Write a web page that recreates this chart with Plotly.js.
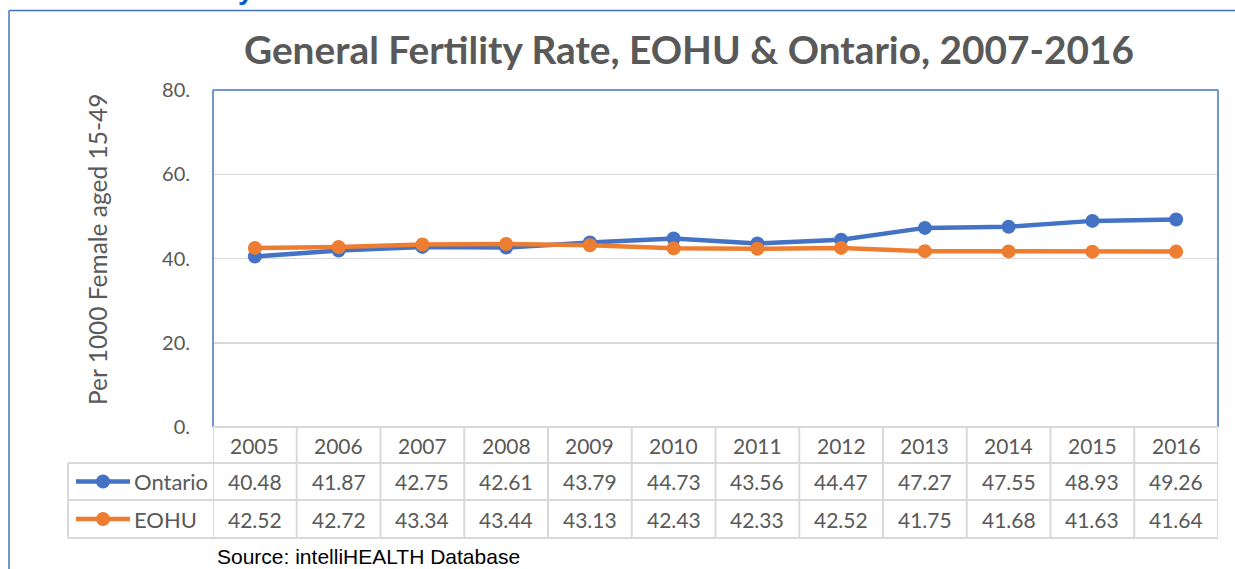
<!DOCTYPE html>
<html>
<head>
<meta charset="utf-8">
<script src="https://cdn.plot.ly/plotly-3.0.1.min.js"></script>
<style>html,body{margin:0;padding:0;background:#fff;} #chart{width:1235px;height:569px;}</style>
</head>
<body>
<div id="chart"></div>
<script>
// ---- data ----
var years = ["2005","2006","2007","2008","2009","2010","2011","2012","2013","2014","2015","2016"];
var ontario = [40.48, 41.87, 42.75, 42.61, 43.79, 44.73, 43.56, 44.47, 47.27, 47.55, 48.93, 49.26];
var eohu = [42.52, 42.72, 43.34, 43.44, 43.13, 42.43, 42.33, 42.52, 41.75, 41.68, 41.63, 41.64];
var seriesNames = ["Ontario", "EOHU"];
var yTickVals = [0, 20, 40, 60, 80];
var yTickText = ["0.", "20.", "40.", "60.", "80."];
var titleText = "General Fertility Rate, EOHU & Ontario, 2007-2016";
var yTitleText = "Per 1000 Female aged 15-49";
var sourceText = "Source: intelliHEALTH Database";

// ---- layout geometry (pixels) ----
var W = 1235, H = 569;
var L = 213, R = 1218, T = 90, B = 427;
var pw = R - L, ph = B - T;
function px(x) { return (x - L) / pw; }
function py(y) { return (B - y) / ph; }
var blue = "#4472C4", orange = "#ED7D31", grey = "#595959", gridc = "#D9D9D9";
var font = "Lato, 'Open Sans', sans-serif";
var rowTop = [427, 463, 500, 538];
var tblLeft = 68;

var traces = [
  {x: years, y: ontario, name: seriesNames[0], type: "scatter", mode: "lines+markers",
   line: {color: blue, width: 4.5}, marker: {color: blue, size: 14}},
  {x: years, y: eohu, name: seriesNames[1], type: "scatter", mode: "lines+markers",
   line: {color: orange, width: 4.5}, marker: {color: orange, size: 14}}
];

var shapes = [];
var annotations = [];

// outer frame (top + left visible)
shapes.push({type: "line", xref: "paper", yref: "paper", x0: px(9), x1: px(W + 5), y0: py(10.5), y1: py(10.5), line: {color: blue, width: 1.5}});
shapes.push({type: "line", xref: "paper", yref: "paper", x0: px(9), x1: px(9), y0: py(10.5), y1: py(H + 5), line: {color: blue, width: 1.5}});

// plot area border
shapes.push({type: "line", xref: "paper", yref: "paper", x0: 0, x1: 1, y0: 1, y1: 1, line: {color: blue, width: 1.5}});
shapes.push({type: "line", xref: "paper", yref: "paper", x0: 0, x1: 0, y0: 0, y1: 1, line: {color: blue, width: 1.5}});
shapes.push({type: "line", xref: "paper", yref: "paper", x0: 1, x1: 1, y0: 0, y1: 1, line: {color: blue, width: 1.5}});

// table horizontal lines
shapes.push({type: "line", xref: "paper", yref: "paper", x0: 0, x1: 1, y0: py(rowTop[0]), y1: py(rowTop[0]), line: {color: gridc, width: 2}});
for (var r = 1; r < rowTop.length; r++) {
  shapes.push({type: "line", xref: "paper", yref: "paper", x0: px(tblLeft), x1: 1, y0: py(rowTop[r]), y1: py(rowTop[r]), line: {color: gridc, width: 2}});
}
// table vertical lines
for (var i = 0; i <= years.length; i++) {
  shapes.push({type: "line", xref: "x", yref: "paper", x0: i - 0.5, x1: i - 0.5, y0: py(rowTop[0]), y1: py(rowTop[3]), line: {color: gridc, width: 2}});
}
shapes.push({type: "line", xref: "paper", yref: "paper", x0: px(tblLeft), x1: px(tblLeft), y0: py(rowTop[1]), y1: py(rowTop[3]), line: {color: gridc, width: 2}});

// header years
years.forEach(function (yr, i) {
  annotations.push({xref: "x", yref: "paper", x: i, y: py((rowTop[0] + rowTop[1]) / 2), text: yr, showarrow: false,
    xanchor: "center", yanchor: "middle", font: {family: font, size: 21, color: grey}});
});
// value rows
var seriesVals = [ontario, eohu];
var seriesCols = [blue, orange];
seriesVals.forEach(function (vals, s) {
  var yc = py((rowTop[s + 1] + rowTop[s + 2]) / 2);
  vals.forEach(function (v, i) {
    annotations.push({xref: "x", yref: "paper", x: i, y: yc, text: v.toFixed(2), showarrow: false,
      xanchor: "center", yanchor: "middle", font: {family: font, size: 21, color: grey}});
  });
  // legend key
  shapes.push({type: "line", xref: "paper", yref: "paper", x0: px(76), x1: px(130), y0: yc, y1: yc, line: {color: seriesCols[s], width: 4.5}});
  shapes.push({type: "circle", xref: "paper", yref: "paper", x0: px(96), x1: px(110), y0: yc - 7 / ph, y1: yc + 7 / ph, fillcolor: seriesCols[s], line: {width: 0}});
  annotations.push({xref: "paper", yref: "paper", x: px(132), y: yc, text: seriesNames[s], showarrow: false,
    xanchor: "left", yanchor: "middle", font: {family: font, size: 22, color: grey}});
});

// y-axis title
annotations.push({xref: "paper", yref: "paper", x: px(97), y: py(250), text: yTitleText, textangle: -90, showarrow: false,
  xanchor: "center", yanchor: "middle", font: {family: font, size: 24.5, color: grey}});
// source
annotations.push({xref: "paper", yref: "paper", x: px(215), y: py(556), text: sourceText, showarrow: false,
  xanchor: "left", yanchor: "middle", font: {family: "'Liberation Sans', Arial, sans-serif", size: 21, color: "#000"}});
// cut-off heading fragment (top edge of reference)
annotations.push({xref: "paper", yref: "paper", x: px(246), y: py(-10), text: "<b>y</b>", showarrow: false,
  xanchor: "center", yanchor: "middle", font: {family: "'Liberation Sans', Arial, sans-serif", size: 28, color: "#0B5CC9"}});

var layout = {
  width: W, height: H,
  margin: {l: L, r: W - R, t: T, b: H - B, pad: 0},
  paper_bgcolor: "#fff", plot_bgcolor: "#fff",
  showlegend: false,
  title: {text: "<b>" + titleText + "</b>", xref: "paper", x: px(689), xanchor: "center",
    yref: "container", y: 1 - 50 / H, yanchor: "middle",
    font: {family: font, size: 38.8, color: grey}},
  xaxis: {type: "category", range: [-0.5, years.length - 0.5], showticklabels: false, showgrid: false,
    zeroline: false, showline: false, ticks: "", fixedrange: true},
  yaxis: {range: [0, 80], tickvals: yTickVals, ticktext: yTickText, showgrid: true, gridcolor: gridc, gridwidth: 1.5,
    zeroline: false, showline: false, ticks: "", ticklabelstandoff: 22,
    tickfont: {family: font, size: 20, color: grey}, fixedrange: true},
  shapes: shapes,
  annotations: annotations
};

Plotly.newPlot("chart", traces, layout, {displayModeBar: false, staticPlot: true});
</script>
</body>
</html>
